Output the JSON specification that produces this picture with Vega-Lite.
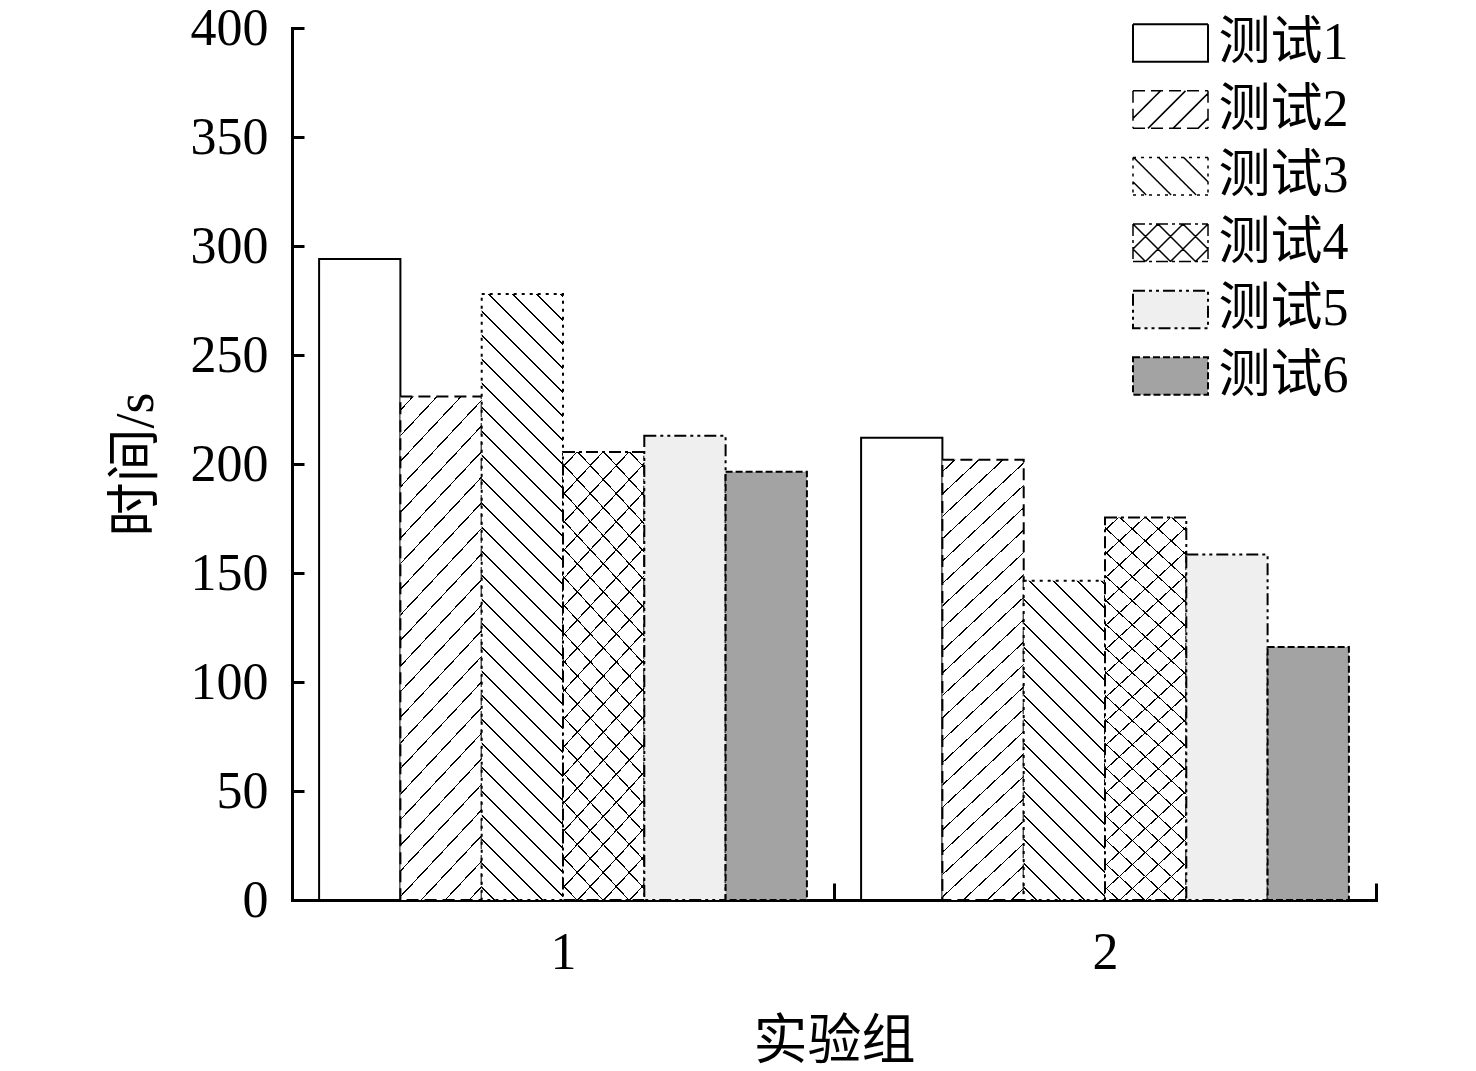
{
  "$schema": "https://vega.github.io/schema/vega-lite/v6.json",
  "width": 1084,
  "height": 872,
  "autosize": {"type": "none"},
  "padding": {"left": 292, "top": 28, "right": 100, "bottom": 171},
  "background": "white",
  "data": {"values": [
    {"group": 1, "series": "测试1", "value": 294},
    {"group": 1, "series": "测试2", "value": 231},
    {"group": 1, "series": "测试3", "value": 278},
    {"group": 1, "series": "测试4", "value": 205.5},
    {"group": 1, "series": "测试5", "value": 213},
    {"group": 1, "series": "测试6", "value": 196.5},
    {"group": 2, "series": "测试1", "value": 212},
    {"group": 2, "series": "测试2", "value": 202},
    {"group": 2, "series": "测试3", "value": 146.5},
    {"group": 2, "series": "测试4", "value": 175.5},
    {"group": 2, "series": "测试5", "value": 158.5},
    {"group": 2, "series": "测试6", "value": 116}
  ]},
  "encoding": {
    "x": {"field": "group", "type": "nominal",
      "scale": {"paddingInner": 0.1, "paddingOuter": 0.05},
      "axis": {"title": "实验组", "labelAngle": 0, "tickSize": -17, "bandPosition": 1, "tickOffset": 27.1, "labelOffset": -27.1, "labelPadding": 44, "titlePadding": 37}},
    "xOffset": {"field": "series", "type": "nominal",
      "scale": {"domain": ["测试1", "测试2", "测试3", "测试4", "测试5", "测试6"], "paddingInner": 0, "paddingOuter": 0}},
    "y": {"field": "value", "type": "quantitative",
      "scale": {"domain": [0, 400], "nice": false},
      "axis": {"title": "时间/s", "values": [0, 50, 100, 150, 200, 250, 300, 350, 400], "tickSize": -12, "labelPadding": 36, "titlePadding": 27}}
  },
  "layer": [
    {
      "mark": {"type": "bar", "stroke": "black", "strokeWidth": 2},
      "encoding": {
        "fill": {"field": "series", "type": "nominal",
          "scale": {"domain": ["测试1", "测试2", "测试3", "测试4", "测试5", "测试6"], "range": ["white", "white", "white", "white", "#efefef", "#a3a3a3"]},
          "legend": {
            "title": null, "orient": "none", "legendX": 841, "legendY": -11, "padding": 0,
            "symbolType": "M-2,-1H2V1H-2Z", "symbolSize": 1406.25, "symbolStrokeWidth": 2, "symbolStrokeColor": "black", "symbolOffset": 11.5,
            "labelOffset": 22, "labelFontSize": 52, "labelFont": "Liberation Serif, Noto Sans CJK SC", "labelColor": "black", "rowPadding": 14.6,
            "encode": {"symbols": {"update": {
              "shape": {"signal": "datum.value === '测试2' ? 'M-2,-1H-1.36M-1.04,-1H-0.4M-0.08,-1H0.56M0.88,-1H1.52M1.84,-1H2M-2,1H-1.36M-1.04,1H-0.4M-0.08,1H0.56M0.88,1H1.52M1.84,1H2M-2,-1V-0.36M-2,-0.04V0.6M-2,0.92V1M2,-1V-0.36M2,-0.04V0.6M2,0.92V1M-2,0.4667L-1.6333,0.1M-1.6333,0.1L-1.2667,-0.2667M-1.2667,-0.2667L-0.9,-0.6333M-0.9,-0.6333L-0.5333,-1M-1.2,1L-0.8,0.6M-0.8,0.6L-0.4,0.2M-0.4,0.2L0,-0.2M0,-0.2L0.4,-0.6M0.4,-0.6L0.8,-1M0.1333,1L0.5067,0.6267M0.5067,0.6267L0.88,0.2533M0.88,0.2533L1.2533,-0.12M1.2533,-0.12L1.6267,-0.4933M1.6267,-0.4933L2,-0.8667M1.4667,1L1.7333,0.7333M1.7333,0.7333L2,0.4667' : datum.value === '测试3' ? 'M-2,-1H-1.84M-1.5733,-1H-1.4133M-1.1467,-1H-0.9867M-0.72,-1H-0.56M-0.2933,-1H-0.1333M0.1333,-1H0.2933M0.56,-1H0.72M0.9867,-1H1.1467M1.4133,-1H1.5733M1.84,-1H2M-2,1H-1.84M-1.5733,1H-1.4133M-1.1467,1H-0.9867M-0.72,1H-0.56M-0.2933,1H-0.1333M0.1333,1H0.2933M0.56,1H0.72M0.9867,1H1.1467M1.4133,1H1.5733M1.84,1H2M-2,-1V-0.84M-2,-0.5733V-0.4133M-2,-0.1467V0.0133M-2,0.28V0.44M-2,0.7067V0.8667M2,-1V-0.84M2,-0.5733V-0.4133M2,-0.1467V0.0133M2,0.28V0.44M2,0.7067V0.8667M-2,0.3L-1.9,0.4M-1.9,0.4L-1.8,0.5M-1.8,0.5L-1.7,0.6M-1.7,0.6L-1.6,0.7M-1.6,0.7L-1.5,0.8M-1.5,0.8L-1.4,0.9M-1.4,0.9L-1.3,1M-1.9667,-1L-1.8667,-0.9M-1.8667,-0.9L-1.7667,-0.8M-1.7667,-0.8L-1.6667,-0.7M-1.6667,-0.7L-1.5667,-0.6M-1.5667,-0.6L-1.4667,-0.5M-1.4667,-0.5L-1.3667,-0.4M-1.3667,-0.4L-1.2667,-0.3M-1.2667,-0.3L-1.1667,-0.2M-1.1667,-0.2L-1.0667,-0.1M-1.0667,-0.1L-0.9667,0M-0.9667,0L-0.8667,0.1M-0.8667,0.1L-0.7667,0.2M-0.7667,0.2L-0.6667,0.3M-0.6667,0.3L-0.5667,0.4M-0.5667,0.4L-0.4667,0.5M-0.4667,0.5L-0.3667,0.6M-0.3667,0.6L-0.2667,0.7M-0.2667,0.7L-0.1667,0.8M-0.1667,0.8L-0.0667,0.9M-0.0667,0.9L0.0333,1M-0.6333,-1L-0.5333,-0.9M-0.5333,-0.9L-0.4333,-0.8M-0.4333,-0.8L-0.3333,-0.7M-0.3333,-0.7L-0.2333,-0.6M-0.2333,-0.6L-0.1333,-0.5M-0.1333,-0.5L-0.0333,-0.4M-0.0333,-0.4L0.0667,-0.3M0.0667,-0.3L0.1667,-0.2M0.1667,-0.2L0.2667,-0.1M0.2667,-0.1L0.3667,0M0.3667,0L0.4667,0.1M0.4667,0.1L0.5667,0.2M0.5667,0.2L0.6667,0.3M0.6667,0.3L0.7667,0.4M0.7667,0.4L0.8667,0.5M0.8667,0.5L0.9667,0.6M0.9667,0.6L1.0667,0.7M1.0667,0.7L1.1667,0.8M1.1667,0.8L1.2667,0.9M1.2667,0.9L1.3667,1M0.7,-1L0.8,-0.9M0.8,-0.9L0.9,-0.8M0.9,-0.8L1,-0.7M1,-0.7L1.1,-0.6M1.1,-0.6L1.2,-0.5M1.2,-0.5L1.3,-0.4M1.3,-0.4L1.4,-0.3M1.4,-0.3L1.5,-0.2M1.5,-0.2L1.6,-0.1M1.6,-0.1L1.7,0M1.7,0L1.8,0.1M1.8,0.1L1.9,0.2M1.9,0.2L2,0.3' : datum.value === '测试4' ? 'M-2,-1H-1.36M-1.1467,-1H-0.9867M-0.7733,-1H-0.1333M0.08,-1H0.24M0.4533,-1H1.0933M1.3067,-1H1.4667M1.68,-1H2M-2,1H-1.36M-1.1467,1H-0.9867M-0.7733,1H-0.1333M0.08,1H0.24M0.4533,1H1.0933M1.3067,1H1.4667M1.68,1H2M-2,-1V-0.36M-2,-0.1467V0.0133M-2,0.2267V0.8667M2,-1V-0.36M2,-0.1467V0.0133M2,0.2267V0.8667M-2,0.3333L-1.6667,0.6667M-1.6667,0.6667L-1.3333,1M-2,-1L-1.6,-0.6M-1.6,-0.6L-1.2,-0.2M-1.2,-0.2L-0.8,0.2M-0.8,0.2L-0.4,0.6M-0.4,0.6L0,1M-0.6667,-1L-0.2667,-0.6M-0.2667,-0.6L0.1333,-0.2M0.1333,-0.2L0.5333,0.2M0.5333,0.2L0.9333,0.6M0.9333,0.6L1.3333,1M0.6667,-1L1,-0.6667M1,-0.6667L1.3333,-0.3333M1.3333,-0.3333L1.6667,0M1.6667,0L2,0.3333M-2,0.3333L-1.6667,0M-1.6667,0L-1.3333,-0.3333M-1.3333,-0.3333L-1,-0.6667M-1,-0.6667L-0.6667,-1M-1.3333,1L-0.9333,0.6M-0.9333,0.6L-0.5333,0.2M-0.5333,0.2L-0.1333,-0.2M-0.1333,-0.2L0.2667,-0.6M0.2667,-0.6L0.6667,-1M0,1L0.4,0.6M0.4,0.6L0.8,0.2M0.8,0.2L1.2,-0.2M1.2,-0.2L1.6,-0.6M1.6,-0.6L2,-1M1.3333,1L1.6667,0.6667M1.6667,0.6667L2,0.3333' : 'M-2,-1H2V1H-2Z'"},
              "strokeDash": {"signal": "datum.value === '测试5' ? [12,4,3,4,3,4] : datum.value === '测试6' ? [7,3] : [1,0]"},
              "stroke": {"value": "black"},
              "strokeWidth": {"signal": "datum.value === '测试2' || datum.value === '测试3' || datum.value === '测试4' ? 1.5 : 2"}
            }}}
          }},
        "strokeDash": {"field": "series", "type": "nominal",
          "scale": {"domain": ["测试1", "测试2", "测试3", "测试4", "测试5", "测试6"], "range": [[1, 0], [12, 6], [3, 5], [12, 4, 3, 4], [12, 4, 3, 4, 3, 4], [7, 3]]},
          "legend": null}
      }
    },
    {
      "transform": [{"filter": "datum.series === '测试2'"}],
      "mark": {"type": "bar", "fill": {"gradient": "linear", "x1": 0, "y1": 0, "x2": 0.1961, "y2": 1.13846, "stops": [
        {"offset":0.02169,"color":"transparent"},{"offset":0.02169,"color":"black"},{"offset":0.02459,"color":"black"},{"offset":0.02459,"color":"transparent"},
        {"offset":0.06506,"color":"transparent"},{"offset":0.06506,"color":"black"},{"offset":0.06796,"color":"black"},{"offset":0.06796,"color":"transparent"},
        {"offset":0.10844,"color":"transparent"},{"offset":0.10844,"color":"black"},{"offset":0.11134,"color":"black"},{"offset":0.11134,"color":"transparent"},
        {"offset":0.15182,"color":"transparent"},{"offset":0.15182,"color":"black"},{"offset":0.15472,"color":"black"},{"offset":0.15472,"color":"transparent"},
        {"offset":0.19519,"color":"transparent"},{"offset":0.19519,"color":"black"},{"offset":0.19809,"color":"black"},{"offset":0.19809,"color":"transparent"},
        {"offset":0.23857,"color":"transparent"},{"offset":0.23857,"color":"black"},{"offset":0.24147,"color":"black"},{"offset":0.24147,"color":"transparent"},
        {"offset":0.28195,"color":"transparent"},{"offset":0.28195,"color":"black"},{"offset":0.28485,"color":"black"},{"offset":0.28485,"color":"transparent"},
        {"offset":0.32532,"color":"transparent"},{"offset":0.32532,"color":"black"},{"offset":0.32822,"color":"black"},{"offset":0.32822,"color":"transparent"},
        {"offset":0.3687,"color":"transparent"},{"offset":0.3687,"color":"black"},{"offset":0.3716,"color":"black"},{"offset":0.3716,"color":"transparent"},
        {"offset":0.41207,"color":"transparent"},{"offset":0.41207,"color":"black"},{"offset":0.41497,"color":"black"},{"offset":0.41497,"color":"transparent"},
        {"offset":0.45545,"color":"transparent"},{"offset":0.45545,"color":"black"},{"offset":0.45835,"color":"black"},{"offset":0.45835,"color":"transparent"},
        {"offset":0.49882,"color":"transparent"},{"offset":0.49882,"color":"black"},{"offset":0.50172,"color":"black"},{"offset":0.50172,"color":"transparent"},
        {"offset":0.5422,"color":"transparent"},{"offset":0.5422,"color":"black"},{"offset":0.5451,"color":"black"},{"offset":0.5451,"color":"transparent"},
        {"offset":0.58558,"color":"transparent"},{"offset":0.58558,"color":"black"},{"offset":0.58848,"color":"black"},{"offset":0.58848,"color":"transparent"},
        {"offset":0.62895,"color":"transparent"},{"offset":0.62895,"color":"black"},{"offset":0.63185,"color":"black"},{"offset":0.63185,"color":"transparent"},
        {"offset":0.67233,"color":"transparent"},{"offset":0.67233,"color":"black"},{"offset":0.67523,"color":"black"},{"offset":0.67523,"color":"transparent"},
        {"offset":0.71571,"color":"transparent"},{"offset":0.71571,"color":"black"},{"offset":0.71861,"color":"black"},{"offset":0.71861,"color":"transparent"},
        {"offset":0.75908,"color":"transparent"},{"offset":0.75908,"color":"black"},{"offset":0.76198,"color":"black"},{"offset":0.76198,"color":"transparent"},
        {"offset":0.80246,"color":"transparent"},{"offset":0.80246,"color":"black"},{"offset":0.80536,"color":"black"},{"offset":0.80536,"color":"transparent"},
        {"offset":0.84583,"color":"transparent"},{"offset":0.84583,"color":"black"},{"offset":0.84873,"color":"black"},{"offset":0.84873,"color":"transparent"},
        {"offset":0.88921,"color":"transparent"},{"offset":0.88921,"color":"black"},{"offset":0.89211,"color":"black"},{"offset":0.89211,"color":"transparent"},
        {"offset":0.93259,"color":"transparent"},{"offset":0.93259,"color":"black"},{"offset":0.93549,"color":"black"},{"offset":0.93549,"color":"transparent"},
        {"offset":0.97596,"color":"transparent"},{"offset":0.97596,"color":"black"},{"offset":0.97886,"color":"black"},{"offset":0.97886,"color":"transparent"}
      ]}}
    },
    {
      "transform": [{"filter": "datum.series === '测试3' && datum.group === 1"}],
      "mark": {"type": "bar", "fill": {"gradient": "linear", "x1": 0, "y1": 1, "x2": 0.14947, "y2": -0.11413, "stops": [
        {"offset":0.01746,"color":"transparent"},{"offset":0.01746,"color":"black"},{"offset":0.01979,"color":"black"},{"offset":0.01979,"color":"transparent"},
        {"offset":0.05238,"color":"transparent"},{"offset":0.05238,"color":"black"},{"offset":0.05471,"color":"black"},{"offset":0.05471,"color":"transparent"},
        {"offset":0.0873,"color":"transparent"},{"offset":0.0873,"color":"black"},{"offset":0.08963,"color":"black"},{"offset":0.08963,"color":"transparent"},
        {"offset":0.12222,"color":"transparent"},{"offset":0.12222,"color":"black"},{"offset":0.12455,"color":"black"},{"offset":0.12455,"color":"transparent"},
        {"offset":0.15714,"color":"transparent"},{"offset":0.15714,"color":"black"},{"offset":0.15947,"color":"black"},{"offset":0.15947,"color":"transparent"},
        {"offset":0.19206,"color":"transparent"},{"offset":0.19206,"color":"black"},{"offset":0.19439,"color":"black"},{"offset":0.19439,"color":"transparent"},
        {"offset":0.22698,"color":"transparent"},{"offset":0.22698,"color":"black"},{"offset":0.22931,"color":"black"},{"offset":0.22931,"color":"transparent"},
        {"offset":0.26189,"color":"transparent"},{"offset":0.26189,"color":"black"},{"offset":0.26422,"color":"black"},{"offset":0.26422,"color":"transparent"},
        {"offset":0.29681,"color":"transparent"},{"offset":0.29681,"color":"black"},{"offset":0.29914,"color":"black"},{"offset":0.29914,"color":"transparent"},
        {"offset":0.33173,"color":"transparent"},{"offset":0.33173,"color":"black"},{"offset":0.33406,"color":"black"},{"offset":0.33406,"color":"transparent"},
        {"offset":0.36665,"color":"transparent"},{"offset":0.36665,"color":"black"},{"offset":0.36898,"color":"black"},{"offset":0.36898,"color":"transparent"},
        {"offset":0.40157,"color":"transparent"},{"offset":0.40157,"color":"black"},{"offset":0.4039,"color":"black"},{"offset":0.4039,"color":"transparent"},
        {"offset":0.43649,"color":"transparent"},{"offset":0.43649,"color":"black"},{"offset":0.43882,"color":"black"},{"offset":0.43882,"color":"transparent"},
        {"offset":0.47141,"color":"transparent"},{"offset":0.47141,"color":"black"},{"offset":0.47374,"color":"black"},{"offset":0.47374,"color":"transparent"},
        {"offset":0.50633,"color":"transparent"},{"offset":0.50633,"color":"black"},{"offset":0.50866,"color":"black"},{"offset":0.50866,"color":"transparent"},
        {"offset":0.54125,"color":"transparent"},{"offset":0.54125,"color":"black"},{"offset":0.54358,"color":"black"},{"offset":0.54358,"color":"transparent"},
        {"offset":0.57617,"color":"transparent"},{"offset":0.57617,"color":"black"},{"offset":0.5785,"color":"black"},{"offset":0.5785,"color":"transparent"},
        {"offset":0.61109,"color":"transparent"},{"offset":0.61109,"color":"black"},{"offset":0.61342,"color":"black"},{"offset":0.61342,"color":"transparent"},
        {"offset":0.64601,"color":"transparent"},{"offset":0.64601,"color":"black"},{"offset":0.64834,"color":"black"},{"offset":0.64834,"color":"transparent"},
        {"offset":0.68092,"color":"transparent"},{"offset":0.68092,"color":"black"},{"offset":0.68325,"color":"black"},{"offset":0.68325,"color":"transparent"},
        {"offset":0.71584,"color":"transparent"},{"offset":0.71584,"color":"black"},{"offset":0.71817,"color":"black"},{"offset":0.71817,"color":"transparent"},
        {"offset":0.75076,"color":"transparent"},{"offset":0.75076,"color":"black"},{"offset":0.75309,"color":"black"},{"offset":0.75309,"color":"transparent"},
        {"offset":0.78568,"color":"transparent"},{"offset":0.78568,"color":"black"},{"offset":0.78801,"color":"black"},{"offset":0.78801,"color":"transparent"},
        {"offset":0.8206,"color":"transparent"},{"offset":0.8206,"color":"black"},{"offset":0.82293,"color":"black"},{"offset":0.82293,"color":"transparent"},
        {"offset":0.85552,"color":"transparent"},{"offset":0.85552,"color":"black"},{"offset":0.85785,"color":"black"},{"offset":0.85785,"color":"transparent"},
        {"offset":0.89044,"color":"transparent"},{"offset":0.89044,"color":"black"},{"offset":0.89277,"color":"black"},{"offset":0.89277,"color":"transparent"},
        {"offset":0.92536,"color":"transparent"},{"offset":0.92536,"color":"black"},{"offset":0.92769,"color":"black"},{"offset":0.92769,"color":"transparent"},
        {"offset":0.96028,"color":"transparent"},{"offset":0.96028,"color":"black"},{"offset":0.96261,"color":"black"},{"offset":0.96261,"color":"transparent"},
        {"offset":0.9952,"color":"transparent"},{"offset":0.9952,"color":"black"},{"offset":0.99753,"color":"black"},{"offset":0.99753,"color":"transparent"}
      ]}}
    },
    {
      "transform": [{"filter": "datum.series === '测试3' && datum.group === 2"}],
      "mark": {"type": "bar", "fill": {"gradient": "linear", "x1": 0, "y1": 1, "x2": 0.2999, "y2": -0.1782, "stops": [
        {"offset":0.02995,"color":"transparent"},{"offset":0.02995,"color":"black"},{"offset":0.03395,"color":"black"},{"offset":0.03395,"color":"transparent"},
        {"offset":0.08984,"color":"transparent"},{"offset":0.08984,"color":"black"},{"offset":0.09384,"color":"black"},{"offset":0.09384,"color":"transparent"},
        {"offset":0.14974,"color":"transparent"},{"offset":0.14974,"color":"black"},{"offset":0.15374,"color":"black"},{"offset":0.15374,"color":"transparent"},
        {"offset":0.20963,"color":"transparent"},{"offset":0.20963,"color":"black"},{"offset":0.21363,"color":"black"},{"offset":0.21363,"color":"transparent"},
        {"offset":0.26953,"color":"transparent"},{"offset":0.26953,"color":"black"},{"offset":0.27353,"color":"black"},{"offset":0.27353,"color":"transparent"},
        {"offset":0.32942,"color":"transparent"},{"offset":0.32942,"color":"black"},{"offset":0.33342,"color":"black"},{"offset":0.33342,"color":"transparent"},
        {"offset":0.38932,"color":"transparent"},{"offset":0.38932,"color":"black"},{"offset":0.39332,"color":"black"},{"offset":0.39332,"color":"transparent"},
        {"offset":0.44921,"color":"transparent"},{"offset":0.44921,"color":"black"},{"offset":0.45321,"color":"black"},{"offset":0.45321,"color":"transparent"},
        {"offset":0.50911,"color":"transparent"},{"offset":0.50911,"color":"black"},{"offset":0.51311,"color":"black"},{"offset":0.51311,"color":"transparent"},
        {"offset":0.569,"color":"transparent"},{"offset":0.569,"color":"black"},{"offset":0.573,"color":"black"},{"offset":0.573,"color":"transparent"},
        {"offset":0.6289,"color":"transparent"},{"offset":0.6289,"color":"black"},{"offset":0.6329,"color":"black"},{"offset":0.6329,"color":"transparent"},
        {"offset":0.68879,"color":"transparent"},{"offset":0.68879,"color":"black"},{"offset":0.69279,"color":"black"},{"offset":0.69279,"color":"transparent"},
        {"offset":0.74869,"color":"transparent"},{"offset":0.74869,"color":"black"},{"offset":0.75269,"color":"black"},{"offset":0.75269,"color":"transparent"},
        {"offset":0.80858,"color":"transparent"},{"offset":0.80858,"color":"black"},{"offset":0.81258,"color":"black"},{"offset":0.81258,"color":"transparent"},
        {"offset":0.86848,"color":"transparent"},{"offset":0.86848,"color":"black"},{"offset":0.87248,"color":"black"},{"offset":0.87248,"color":"transparent"},
        {"offset":0.92837,"color":"transparent"},{"offset":0.92837,"color":"black"},{"offset":0.93237,"color":"black"},{"offset":0.93237,"color":"transparent"},
        {"offset":0.98827,"color":"transparent"},{"offset":0.98827,"color":"black"},{"offset":0.99227,"color":"black"},{"offset":0.99227,"color":"transparent"}
      ]}}
    },
    {
      "transform": [{"filter": "datum.series === '测试4'"}],
      "mark": {"type": "bar", "fill": {"gradient": "linear", "x1": 0, "y1": 0, "x2": 0.22562, "y2": 1.15171, "stops": [
        {"offset":0.02619,"color":"transparent"},{"offset":0.02619,"color":"black"},{"offset":0.02939,"color":"black"},{"offset":0.02939,"color":"transparent"},
        {"offset":0.07858,"color":"transparent"},{"offset":0.07858,"color":"black"},{"offset":0.08178,"color":"black"},{"offset":0.08178,"color":"transparent"},
        {"offset":0.13097,"color":"transparent"},{"offset":0.13097,"color":"black"},{"offset":0.13417,"color":"black"},{"offset":0.13417,"color":"transparent"},
        {"offset":0.18336,"color":"transparent"},{"offset":0.18336,"color":"black"},{"offset":0.18656,"color":"black"},{"offset":0.18656,"color":"transparent"},
        {"offset":0.23575,"color":"transparent"},{"offset":0.23575,"color":"black"},{"offset":0.23895,"color":"black"},{"offset":0.23895,"color":"transparent"},
        {"offset":0.28814,"color":"transparent"},{"offset":0.28814,"color":"black"},{"offset":0.29134,"color":"black"},{"offset":0.29134,"color":"transparent"},
        {"offset":0.34053,"color":"transparent"},{"offset":0.34053,"color":"black"},{"offset":0.34373,"color":"black"},{"offset":0.34373,"color":"transparent"},
        {"offset":0.39291,"color":"transparent"},{"offset":0.39291,"color":"black"},{"offset":0.39611,"color":"black"},{"offset":0.39611,"color":"transparent"},
        {"offset":0.4453,"color":"transparent"},{"offset":0.4453,"color":"black"},{"offset":0.4485,"color":"black"},{"offset":0.4485,"color":"transparent"},
        {"offset":0.49769,"color":"transparent"},{"offset":0.49769,"color":"black"},{"offset":0.50089,"color":"black"},{"offset":0.50089,"color":"transparent"},
        {"offset":0.55008,"color":"transparent"},{"offset":0.55008,"color":"black"},{"offset":0.55328,"color":"black"},{"offset":0.55328,"color":"transparent"},
        {"offset":0.60247,"color":"transparent"},{"offset":0.60247,"color":"black"},{"offset":0.60567,"color":"black"},{"offset":0.60567,"color":"transparent"},
        {"offset":0.65486,"color":"transparent"},{"offset":0.65486,"color":"black"},{"offset":0.65806,"color":"black"},{"offset":0.65806,"color":"transparent"},
        {"offset":0.70725,"color":"transparent"},{"offset":0.70725,"color":"black"},{"offset":0.71045,"color":"black"},{"offset":0.71045,"color":"transparent"},
        {"offset":0.75964,"color":"transparent"},{"offset":0.75964,"color":"black"},{"offset":0.76284,"color":"black"},{"offset":0.76284,"color":"transparent"},
        {"offset":0.81203,"color":"transparent"},{"offset":0.81203,"color":"black"},{"offset":0.81523,"color":"black"},{"offset":0.81523,"color":"transparent"},
        {"offset":0.86441,"color":"transparent"},{"offset":0.86441,"color":"black"},{"offset":0.86761,"color":"black"},{"offset":0.86761,"color":"transparent"},
        {"offset":0.9168,"color":"transparent"},{"offset":0.9168,"color":"black"},{"offset":0.92,"color":"black"},{"offset":0.92,"color":"transparent"},
        {"offset":0.96919,"color":"transparent"},{"offset":0.96919,"color":"black"},{"offset":0.97239,"color":"black"},{"offset":0.97239,"color":"transparent"}
      ]}}
    },
    {
      "transform": [{"filter": "datum.series === '测试4'"}],
      "mark": {"type": "bar", "fill": {"gradient": "linear", "x1": 0, "y1": 1, "x2": 0.22562, "y2": -0.15171, "stops": [
        {"offset":0.02619,"color":"transparent"},{"offset":0.02619,"color":"black"},{"offset":0.02939,"color":"black"},{"offset":0.02939,"color":"transparent"},
        {"offset":0.07858,"color":"transparent"},{"offset":0.07858,"color":"black"},{"offset":0.08178,"color":"black"},{"offset":0.08178,"color":"transparent"},
        {"offset":0.13097,"color":"transparent"},{"offset":0.13097,"color":"black"},{"offset":0.13417,"color":"black"},{"offset":0.13417,"color":"transparent"},
        {"offset":0.18336,"color":"transparent"},{"offset":0.18336,"color":"black"},{"offset":0.18656,"color":"black"},{"offset":0.18656,"color":"transparent"},
        {"offset":0.23575,"color":"transparent"},{"offset":0.23575,"color":"black"},{"offset":0.23895,"color":"black"},{"offset":0.23895,"color":"transparent"},
        {"offset":0.28814,"color":"transparent"},{"offset":0.28814,"color":"black"},{"offset":0.29134,"color":"black"},{"offset":0.29134,"color":"transparent"},
        {"offset":0.34053,"color":"transparent"},{"offset":0.34053,"color":"black"},{"offset":0.34373,"color":"black"},{"offset":0.34373,"color":"transparent"},
        {"offset":0.39291,"color":"transparent"},{"offset":0.39291,"color":"black"},{"offset":0.39611,"color":"black"},{"offset":0.39611,"color":"transparent"},
        {"offset":0.4453,"color":"transparent"},{"offset":0.4453,"color":"black"},{"offset":0.4485,"color":"black"},{"offset":0.4485,"color":"transparent"},
        {"offset":0.49769,"color":"transparent"},{"offset":0.49769,"color":"black"},{"offset":0.50089,"color":"black"},{"offset":0.50089,"color":"transparent"},
        {"offset":0.55008,"color":"transparent"},{"offset":0.55008,"color":"black"},{"offset":0.55328,"color":"black"},{"offset":0.55328,"color":"transparent"},
        {"offset":0.60247,"color":"transparent"},{"offset":0.60247,"color":"black"},{"offset":0.60567,"color":"black"},{"offset":0.60567,"color":"transparent"},
        {"offset":0.65486,"color":"transparent"},{"offset":0.65486,"color":"black"},{"offset":0.65806,"color":"black"},{"offset":0.65806,"color":"transparent"},
        {"offset":0.70725,"color":"transparent"},{"offset":0.70725,"color":"black"},{"offset":0.71045,"color":"black"},{"offset":0.71045,"color":"transparent"},
        {"offset":0.75964,"color":"transparent"},{"offset":0.75964,"color":"black"},{"offset":0.76284,"color":"black"},{"offset":0.76284,"color":"transparent"},
        {"offset":0.81203,"color":"transparent"},{"offset":0.81203,"color":"black"},{"offset":0.81523,"color":"black"},{"offset":0.81523,"color":"transparent"},
        {"offset":0.86441,"color":"transparent"},{"offset":0.86441,"color":"black"},{"offset":0.86761,"color":"black"},{"offset":0.86761,"color":"transparent"},
        {"offset":0.9168,"color":"transparent"},{"offset":0.9168,"color":"black"},{"offset":0.92,"color":"black"},{"offset":0.92,"color":"transparent"},
        {"offset":0.96919,"color":"transparent"},{"offset":0.96919,"color":"black"},{"offset":0.97239,"color":"black"},{"offset":0.97239,"color":"transparent"}
      ]}}
    }
  ],
  "config": {
    "font": "Liberation Serif, Noto Sans CJK SC",
    "view": {"stroke": null},
    "axis": {
      "grid": false,
      "domainColor": "black", "domainWidth": 3, "domainCap": "square",
      "tickColor": "black", "tickWidth": 3,
      "labelColor": "black", "labelFont": "Liberation Serif, Noto Sans CJK SC", "labelFontSize": 52,
      "titleFont": "Liberation Serif, Noto Sans CJK SC", "titleFontSize": 54, "titleFontWeight": "normal", "titleColor": "black"
    }
  }
}
